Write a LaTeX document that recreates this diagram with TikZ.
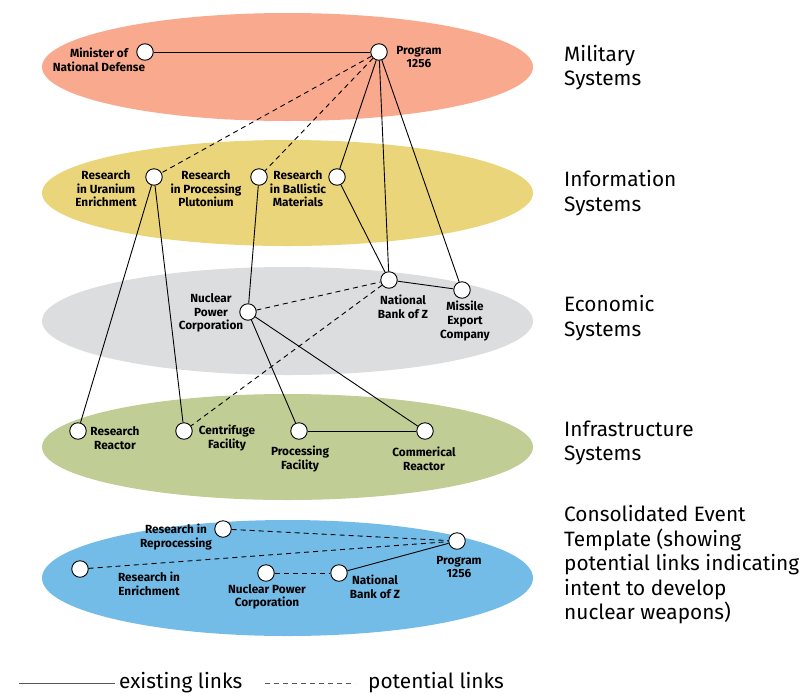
\documentclass[tikz,border=0pt]{standalone}
\usepackage{fontspec}
\setmainfont{Fira Sans}
\definecolor{milcol}{HTML}{F8A98E}
\definecolor{infcol}{HTML}{EBD57A}
\definecolor{ecocol}{HTML}{DCDDDF}
\definecolor{infrcol}{HTML}{C0CD94}
\definecolor{cetcol}{HTML}{74BCE8}
\definecolor{leggray}{HTML}{555555}
\tikzset{
  pt/.style={circle, draw=black, fill=white, line width=0.9pt, minimum size=16.5pt, inner sep=0pt},
  lab/.style={align=center, inner sep=0pt, font=\bfseries\fontsize{11.8}{13.6}\selectfont},
  side/.style={align=left, anchor=north west, inner sep=0pt, font=\fontsize{20.8}{24.5}\selectfont},
  legtext/.style={anchor=west, inner sep=0pt, font=\fontsize{20.8}{24}\selectfont},
  link/.style={line width=0.9pt},
  plink/.style={line width=0.9pt, dash pattern=on 5pt off 4pt}
}
\begin{document}
\begin{tikzpicture}[x=1pt,y=-1pt]
\useasboundingbox (0,0) rectangle (810,694);
% layers
\fill[milcol]  (287.5,67)  ellipse [x radius=245.5pt, y radius=54pt];
\fill[infcol]  (287.5,193) ellipse [x radius=245.5pt, y radius=53pt];
\fill[ecocol]  (287.5,321) ellipse [x radius=245.5pt, y radius=54pt];
\fill[infrcol] (287.5,447) ellipse [x radius=245.5pt, y radius=53pt];
\fill[cetcol]  (287.5,578) ellipse [x radius=245.5pt, y radius=58pt];
% military
\node[pt] (min) at (145,52) {};
\node[pt] (prog) at (379,52) {};
\node[lab] (lmin) at (99,60) {Minister of\\National Defense};
\node[lab] (lprog) at (419,57) {Program\\1256};
% information
\node[pt] (ura) at (154,177) {};
\node[pt] (plu) at (259,177) {};
\node[pt] (bal) at (337,177) {};
\node[lab] (lura) at (106,189) {Research\\in Uranium\\Enrichment};
\node[lab] (lplu) at (206,189) {Research\\in Processing\\Plutonium};
\node[lab] (lbal) at (298,189) {Research\\in Ballistic\\Materials};
% economic
\node[pt] (npc) at (248,312) {};
\node[pt] (bank) at (389,280) {};
\node[pt] (mis) at (462,290) {};
\node[lab] (lnpc) at (211,313) {Nuclear\\Power\\Corporation};
\node[lab] (lbank) at (403,307) {National\\Bank of Z};
\node[lab] (lmis) at (465,321) {Missile\\Export\\Company};
% infrastructure
\node[pt] (rr) at (78,431) {};
\node[pt] (cf) at (184,431) {};
\node[pt] (pf) at (299,431) {};
\node[pt] (cr) at (425,431) {};
\node[lab] (lrr) at (115,438) {Research\\Reactor};
\node[lab] (lcf) at (227,438) {Centrifuge\\Facility};
\node[lab] (lpf) at (300,459) {Processing\\Facility};
\node[lab] (lcr) at (424,459) {Commerical\\Reactor};
% consolidated
\node[pt] (crep) at (223,529) {};
\node[pt] (cenr) at (80,569) {};
\node[pt] (cprog) at (457,541) {};
\node[pt] (cnpc) at (266,573) {};
\node[pt] (cbank) at (339,573) {};
\node[lab] (lcrep) at (176,537) {Research in\\Reprocessing};
\node[lab] (lcenr) at (149,584) {Research in\\Enrichment};
\node[lab] (lcnpc) at (267,597) {Nuclear Power\\Corporation};
\node[lab] (lcbank) at (375,587) {National\\Bank of Z};
\node[lab] (lcprog) at (459,567) {Program\\1256};
% links
\draw[link] (min) -- (prog);
\draw[plink] (prog) -- (ura);
\draw[plink] (prog) -- (plu);
\draw[link] (prog) -- (bal);
\draw[link] (prog) -- (bank);
\draw[link] (prog) -- (mis);
\draw[link] (ura) -- (rr);
\draw[link] (ura) -- (cf);
\draw[link] (plu) -- (npc);
\draw[link] (bal) -- (bank);
\draw[link] (bank) -- (mis);
\draw[plink] (npc) -- (bank);
\draw[plink] (bank) -- (cf);
\draw[link] (npc) -- (pf);
\draw[link] (npc) -- (cr);
\draw[link] (pf) -- (cr);
\draw[plink] (crep) -- (cprog);
\draw[plink] (cenr) -- (cprog);
\draw[plink] (cnpc) -- (cbank);
\draw[link] (cbank) -- (cprog);
% side labels
\node[side] (smil) at (564,45) {Military\\Systems};
\node[side] (sinf) at (564,170.5) {Information\\Systems};
\node[side] (seco) at (564,295.5) {Economic\\Systems};
\node[side] (sinfr) at (564,420.5) {Infrastructure\\Systems};
\node[side] (scet) at (564,505.5) {Consolidated Event\\Template (showing\\potential links indicating\\intent to develop\\nuclear weapons)};
% legend
\coordinate (ls1) at (19,683);
\coordinate (ls2) at (115,683);
\coordinate (ld1) at (265,683);
\coordinate (ld2) at (355,683);
\draw[leggray, line width=1pt] (ls1) -- (ls2);
\draw[leggray, line width=1pt, dash pattern=on 5pt off 4pt] (ld1) -- (ld2);
\node[legtext] (lex) at (119,683) {existing links};
\node[legtext] (lpot) at (368,683) {potential links};
\end{tikzpicture}
\end{document}
